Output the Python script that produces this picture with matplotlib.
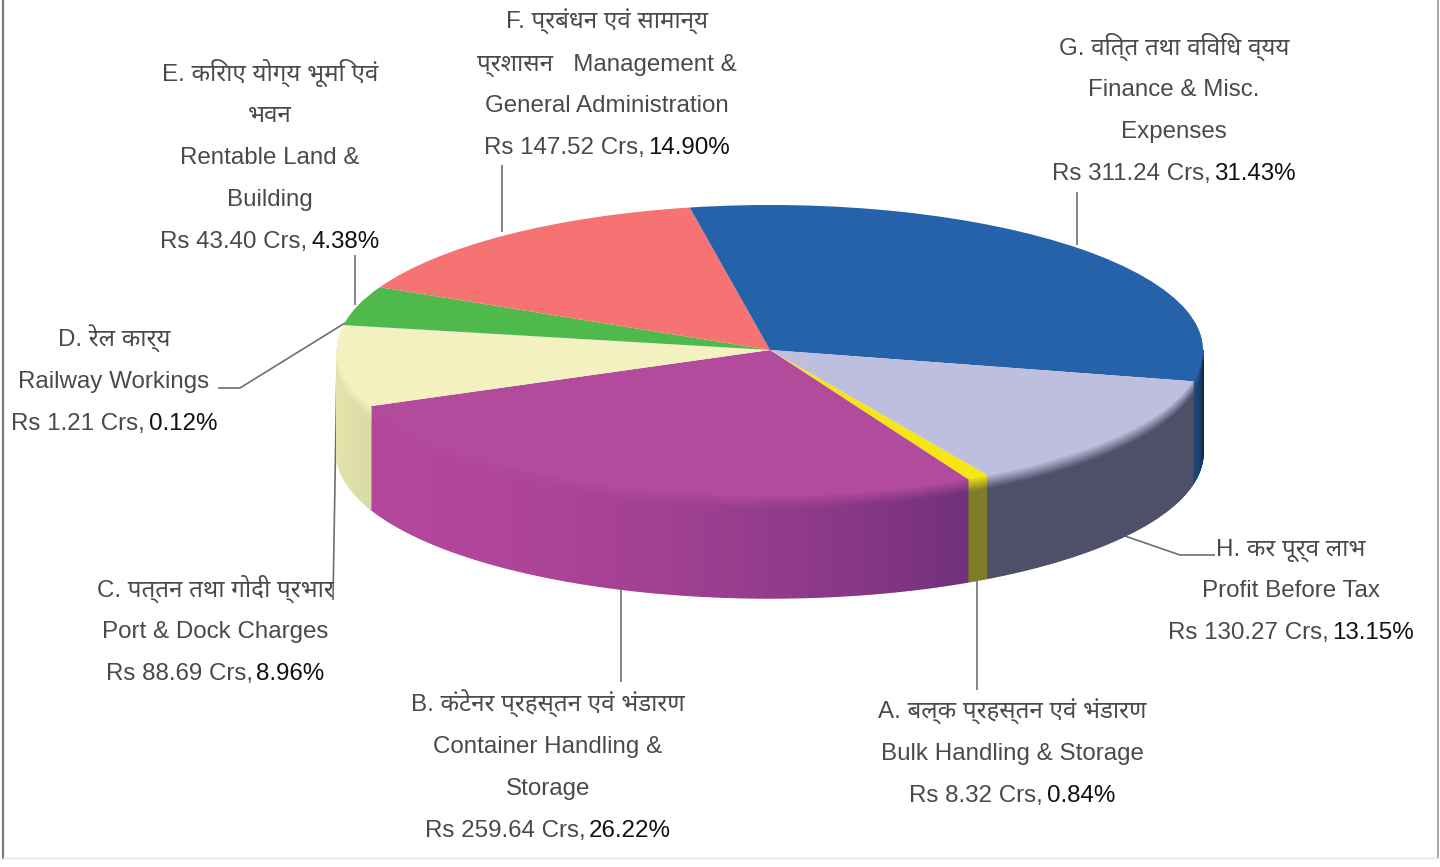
import numpy as np
import matplotlib
matplotlib.use("Agg")
import matplotlib.pyplot as plt
from matplotlib.collections import PolyCollection

categories = ["A", "B", "C", "D", "E", "F", "G", "H"]
amounts = [8.32, 259.64, 88.69, 1.21, 43.40, 147.52, 311.24, 130.27]
shares = [0.84, 26.22, 8.96, 0.12, 4.38, 14.90, 31.43, 13.15]
title_lines = {
    "A": ["A. बल्क प्रहस्तन एवं भंडारण", "Bulk Handling & Storage"],
    "B": ["B. कंटेनर प्रहस्तन एवं भंडारण", "Container Handling &", "Storage"],
    "C": ["C. पत्तन तथा गोदी प्रभार", "Port & Dock Charges"],
    "D": ["D. रेल कार्य", "Railway Workings"],
    "E": ["E. किराए योग्य भूमि एवं", "भवन", "Rentable Land &", "Building"],
    "F": ["F. प्रबंधन एवं सामान्य", "प्रशासन   Management &", "General Administration"],
    "G": ["G. वित्त तथा विविध व्यय", "Finance & Misc.", "Expenses"],
    "H": ["H. कर पूर्व लाभ", "Profit Before Tax"],
}
top_colors = ["#F5E614", "#B24B9B", "#F3F1C0", "#E8EAD0", "#50B94B", "#F57373", "#2662AA", "#BEBEDE"]
side_left = ["#7D7D28", "#B4469B", "#E2E2AA", "#C8C8A0", "#3A8A38", "#B85555", "#1E4678", "#4E506A"]
side_right = ["#7D7D28", "#70307A", "#DADAA5", "#C8C8A0", "#3A8A38", "#B85555", "#12283F", "#4E506A"]

plt.rcParams["font.family"] = ["Liberation Sans", "Noto Sans", "DejaVu Sans"]
W, H = 1440, 867
fig = plt.figure(figsize=(W / 100, H / 100), dpi=100, facecolor="white")
ax = fig.add_axes([0, 0, 1, 1])

CX, CY, RX, RY, DEPTH = 770.0, 350.0, 433.0, 145.0, 103.0
K = RX / RY          # the pie is a circle in data units, squashed by the y scale
def Y(py):
    return (H - py) * K

wedges, _ = ax.pie(shares, colors=top_colors, startangle=-59.8, counterclock=False,
                   center=(CX, Y(CY)), radius=RX,
                   wedgeprops=dict(linewidth=0, zorder=5))
ax.set_aspect("auto")
ax.set_xlim(0, W)
ax.set_ylim(0, H * K)
ax.set_frame_on(False)
ax.set_xticks([]); ax.set_yticks([])

def rgb(c):
    return np.array(matplotlib.colors.to_rgb(c))

polys, cols = [], []
for i, w in enumerate(wedges):
    lo, hi = min(w.theta1, w.theta2), max(w.theta1, w.theta2)
    for shift in (0, 360, 720):
        l, h = max(lo + shift, -180), min(hi + shift, 0)
        if h <= l:
            continue
        n = max(2, int((h - l) * 2))
        edges = np.linspace(l, h, n + 1)
        top, sl, sr = rgb(top_colors[i]), rgb(side_left[i]), rgb(side_right[i])
        for a, b in zip(edges[:-1], edges[1:]):
            u = (0.5 * (a + b) - l) / (h - l)
            side = sl + (sr - sl) * np.clip(u, 0, 1) ** 2.2
            ts = np.concatenate([np.linspace(0, 14, 8), [DEPTH]])
            xa, xb = CX + RX * np.cos(np.radians(a)), CX + RX * np.cos(np.radians(b))
            ya, yb = CY - RY * np.sin(np.radians(a)), CY - RY * np.sin(np.radians(b))
            for d0, d1 in zip(ts[:-1], ts[1:]):
                mix = min(1.0, 0.5 * (d0 + d1) / 14) if d1 <= 14 else 1.0
                col = top + (side - top) * mix
                polys.append([(xa, Y(ya + d0)), (xb, Y(yb + d0)), (xb, Y(yb + d1)), (xa, Y(ya + d1))])
                cols.append(col)
ax.add_collection(PolyCollection(polys, facecolors=cols, edgecolors=cols, linewidths=1.0, zorder=4))

# leader lines (pixel positions)
LEAD = "#6E6E6E"
leaders = [
    ([355, 355], [255, 305]), ([502, 502], [165, 232]), ([1077, 1077], [192, 245]),
    ([1122, 1180, 1215], [535, 555, 555]), ([218, 240, 345], [388, 388, 323]),
    ([337, 333], [365, 600]), ([621, 621], [590, 682]), ([977, 977], [578, 690]),
]
for xs, ys in leaders:
    ax.plot(xs, [Y(v) for v in ys], color=LEAD, lw=1.2, zorder=3, solid_capstyle="butt")

# border
ax.plot([2.5, 2.5], [Y(0), Y(858)], color="#777777", lw=1.6, zorder=3)
ax.plot([1437.5, 1437.5], [Y(0), Y(858)], color="#999999", lw=1.2, zorder=3)
ax.plot([2.5, 1437.5], [Y(858), Y(858)], color="#E2E2E2", lw=1.0, zorder=3)

# labels: centre x and first row centre y, rows 42 px apart, set on the baseline
FS = 17.4
TXT = "#4A4A4A"
BASE = 8.5
anchor = {"A": (1012, 710), "B": (548, 703), "C": (215, 588), "D": (114, 338),
          "E": (270, 72), "F": (607, 20), "G": (1174, 46), "H": (1291, 547)}
renderer = fig.canvas.get_renderer()
for cat, amt, sh in zip(categories, amounts, shares):
    cx, y0 = anchor[cat]
    rows = title_lines[cat]
    for r, line in enumerate(rows):
        ax.text(cx, Y(y0 + r * 41.8 + BASE), line, ha="center", va="baseline", fontsize=FS, color=TXT, zorder=6)
    yl = Y(y0 + len(rows) * 41.8 + BASE)
    t1 = ax.text(0, yl, f"Rs {amt:.2f} Crs, ", ha="left", va="baseline", fontsize=FS, color=TXT, zorder=6)
    t2 = ax.text(0, yl, f"{sh:.2f}%", ha="left", va="baseline", fontsize=FS, color="#111111", zorder=6)
    w1 = t1.get_window_extent(renderer).width * 0.98
    w2 = t2.get_window_extent(renderer).width
    t1.set_x(cx - (w1 + w2) / 2)
    t2.set_x(cx - (w1 + w2) / 2 + w1)

fig.savefig("out.png", dpi=100, facecolor="white")
